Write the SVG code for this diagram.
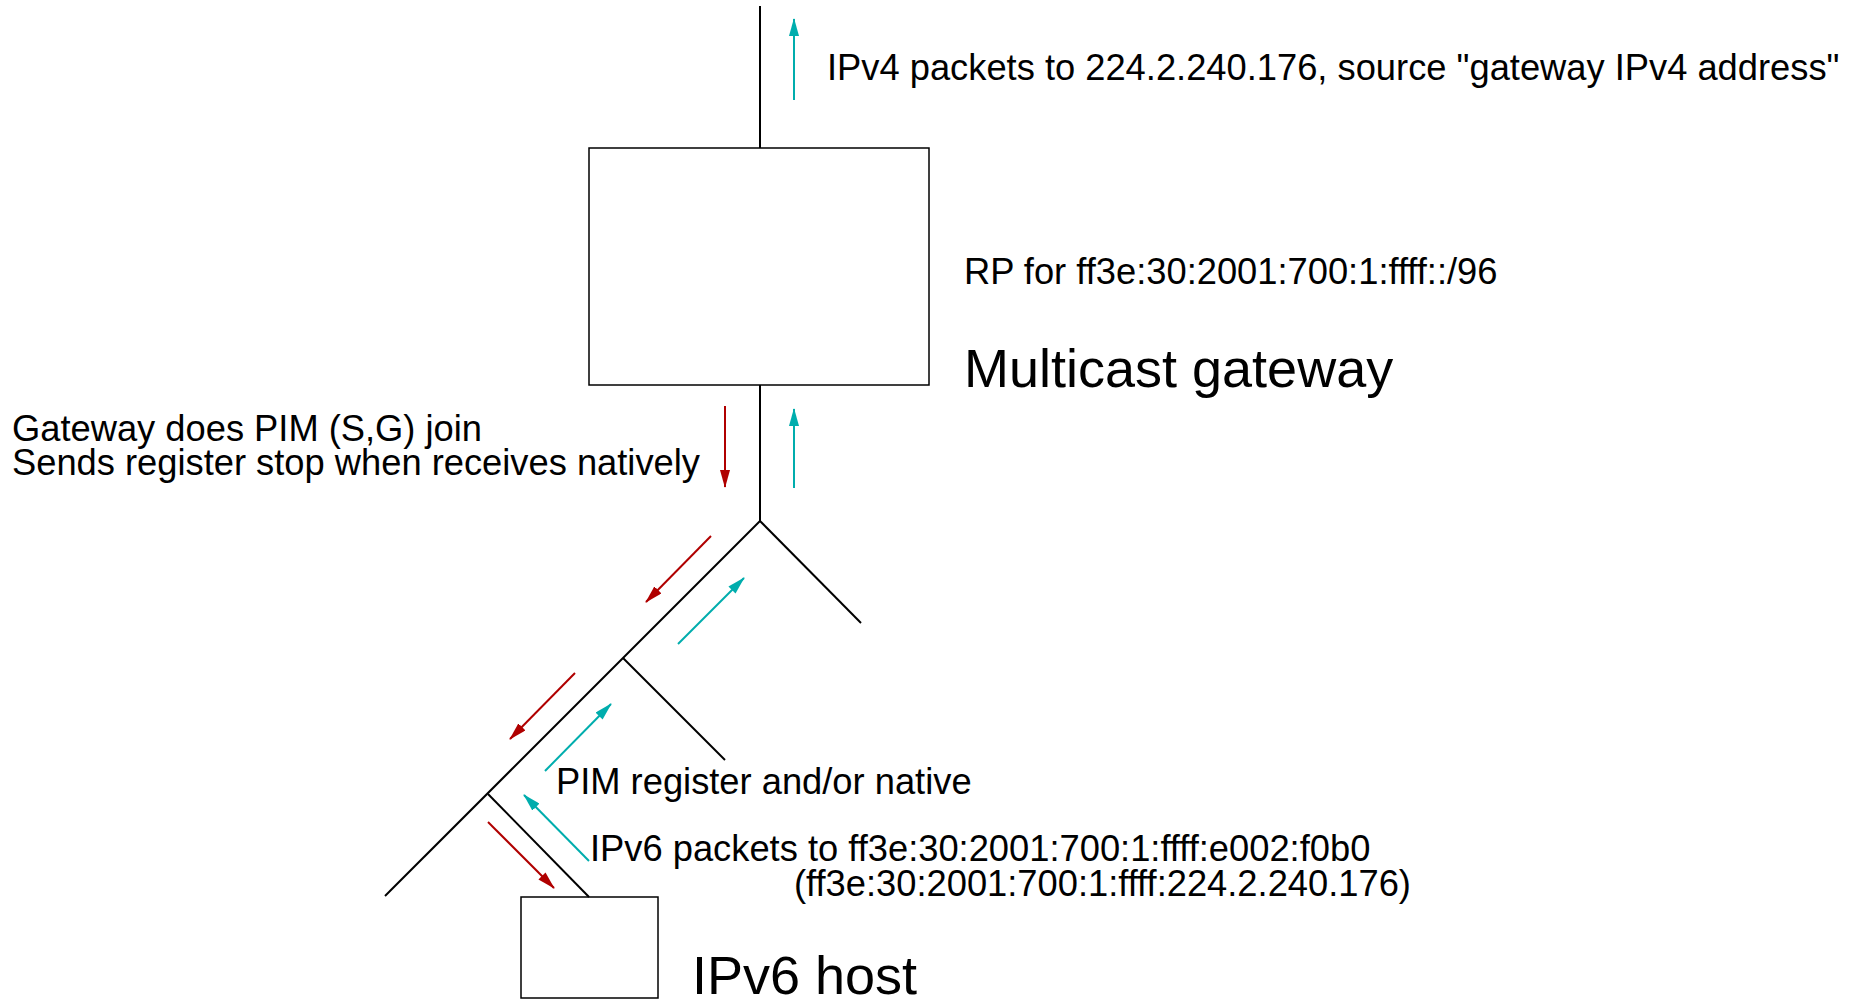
<svg xmlns="http://www.w3.org/2000/svg" width="1858" height="1000" viewBox="0 0 1858 1000">
<style>
.ln{stroke:#000;stroke-width:2;fill:none}
.box{stroke:#000;stroke-width:1.5;fill:#fff}
.cy{stroke:#00adad;stroke-width:2;fill:none;marker-end:url(#ac)}
.rd{stroke:#b00000;stroke-width:2;fill:none;marker-end:url(#ar)}
.t{font-family:"Liberation Sans",Arial,sans-serif;font-size:36.3px;fill:#000}
.tb{font-family:"Liberation Sans",Arial,sans-serif;font-size:54px;fill:#000}
</style>
<defs>
<marker id="ac" markerUnits="userSpaceOnUse" markerWidth="18" markerHeight="10" refX="17" refY="5" orient="auto"><path d="M0,0 L18,5 L0,10 z" fill="#00adad"/></marker>
<marker id="ar" markerUnits="userSpaceOnUse" markerWidth="18" markerHeight="10" refX="17" refY="5" orient="auto"><path d="M0,0 L18,5 L0,10 z" fill="#b00000"/></marker>
</defs>
<rect width="1858" height="1000" fill="#fff"/>
<g id="gateway">
<rect class="box" x="589" y="148" width="340" height="237"/>
<text class="t" x="964" y="284">RP for ff3e:30:2001:700:1:ffff::/96</text>
<text class="tb" x="964" y="387">Multicast gateway</text>
</g>
<g id="host">
<rect class="box" x="521" y="897" width="137" height="101"/>
<text class="tb" x="692" y="994">IPv6 host</text>
</g>
<g id="connectors">
<line class="ln" x1="760" y1="6" x2="760" y2="148"/>
<line class="ln" x1="760" y1="385" x2="760" y2="521"/>
<line class="ln" x1="760" y1="521" x2="861" y2="623"/>
<line class="ln" x1="760" y1="521" x2="385" y2="896"/>
<line class="ln" x1="623" y1="658" x2="725" y2="760"/>
<line class="ln" x1="488" y1="794" x2="589" y2="897"/>
<line class="cy" x1="794" y1="100" x2="794" y2="19"/>
<line class="rd" x1="725" y1="406" x2="725" y2="487"/>
<line class="cy" x1="794" y1="488" x2="794" y2="409"/>
<line class="rd" x1="711" y1="536" x2="646" y2="602"/>
<line class="cy" x1="678" y1="644" x2="744" y2="578"/>
<line class="rd" x1="575" y1="673" x2="510" y2="739"/>
<line class="cy" x1="545" y1="771" x2="611" y2="704"/>
<line class="cy" x1="589" y1="861" x2="524" y2="795"/>
<line class="rd" x1="488" y1="822" x2="554" y2="888"/>
</g>
<g id="labels">
<text class="t" x="827" y="80">IPv4 packets to 224.2.240.176, source "gateway IPv4 address"</text>
<text class="t" x="12" y="441">Gateway does PIM (S,G) join</text>
<text class="t" x="12" y="475">Sends register stop when receives natively</text>
<text class="t" x="556" y="794">PIM register and/or native</text>
<text class="t" x="590" y="861">IPv6 packets to ff3e:30:2001:700:1:ffff:e002:f0b0</text>
<text class="t" x="794" y="896">(ff3e:30:2001:700:1:ffff:224.2.240.176)</text>
</g>
</svg>
